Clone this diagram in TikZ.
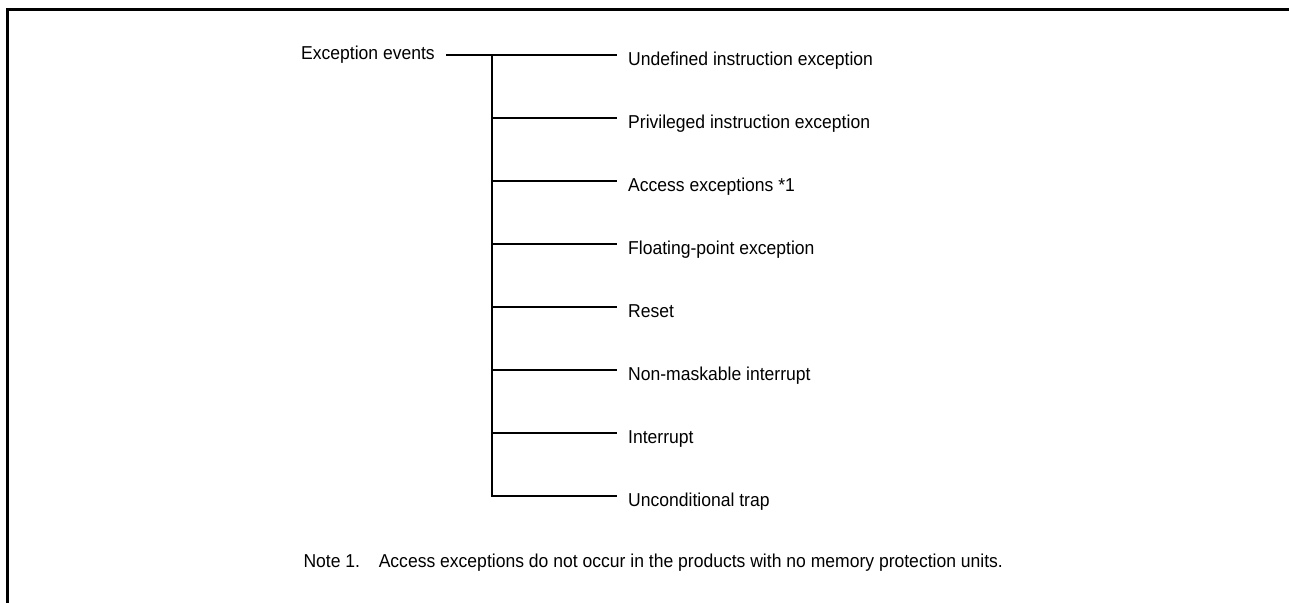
\documentclass[tikz,border=0pt]{standalone}
\usepackage{fontspec}
\setmainfont{Liberation Sans}[FakeStretch=0.94]
\usetikzlibrary{positioning}

\begin{document}
\begin{tikzpicture}[x=0.75pt, y=-0.75pt, thick,
    % text style for the tree
    item/.style={font=\fontsize{14pt}{16pt}\selectfont, inner xsep=8pt, inner ysep=2pt},
    leaf/.style={item, anchor=west, text height=15pt, text depth=0pt},
    branch/.style={line width=1.1pt}]

    \useasboundingbox (0,0) rectangle (1289,603);

    % frame (only top and left edges visible)
    \draw[line width=2.3pt] (7.5,603) -- (7.5,9.5) -- (1289,9.5);

    % root and leaves
    \node[item, anchor=east] (root) at (446,55) {Exception events};
    \coordinate (trunk) at (492,55);
    \node[leaf] (undef) at (617,55)  {Undefined instruction exception};
    \node[leaf] (priv)  at (617,118) {Privileged instruction exception};
    \node[leaf] (acc)   at (617,181) {Access exceptions *1};
    \node[leaf] (fpu)   at (617,244) {Floating-point exception};
    \node[leaf] (rst)   at (617,307) {Reset};
    \node[leaf] (nmi)   at (617,370) {Non-maskable interrupt};
    \node[leaf] (intr)  at (617,433) {Interrupt};
    \node[leaf] (trap)  at (617,496) {Unconditional trap};

    % connectors
    \draw[branch] (root.east) -- (undef.west);
    \draw[branch] (trunk) |- (trap.west);
    \foreach \n in {priv,acc,fpu,rst,nmi,intr}
        \draw[branch] (trunk |- \n.west) -- (\n.west);

    % note
    \node[item, anchor=west, inner xsep=0pt] (note) at (303,563)
        {Note 1.\quad Access exceptions do not occur in the products with no memory protection units.};
\end{tikzpicture}
\end{document}
